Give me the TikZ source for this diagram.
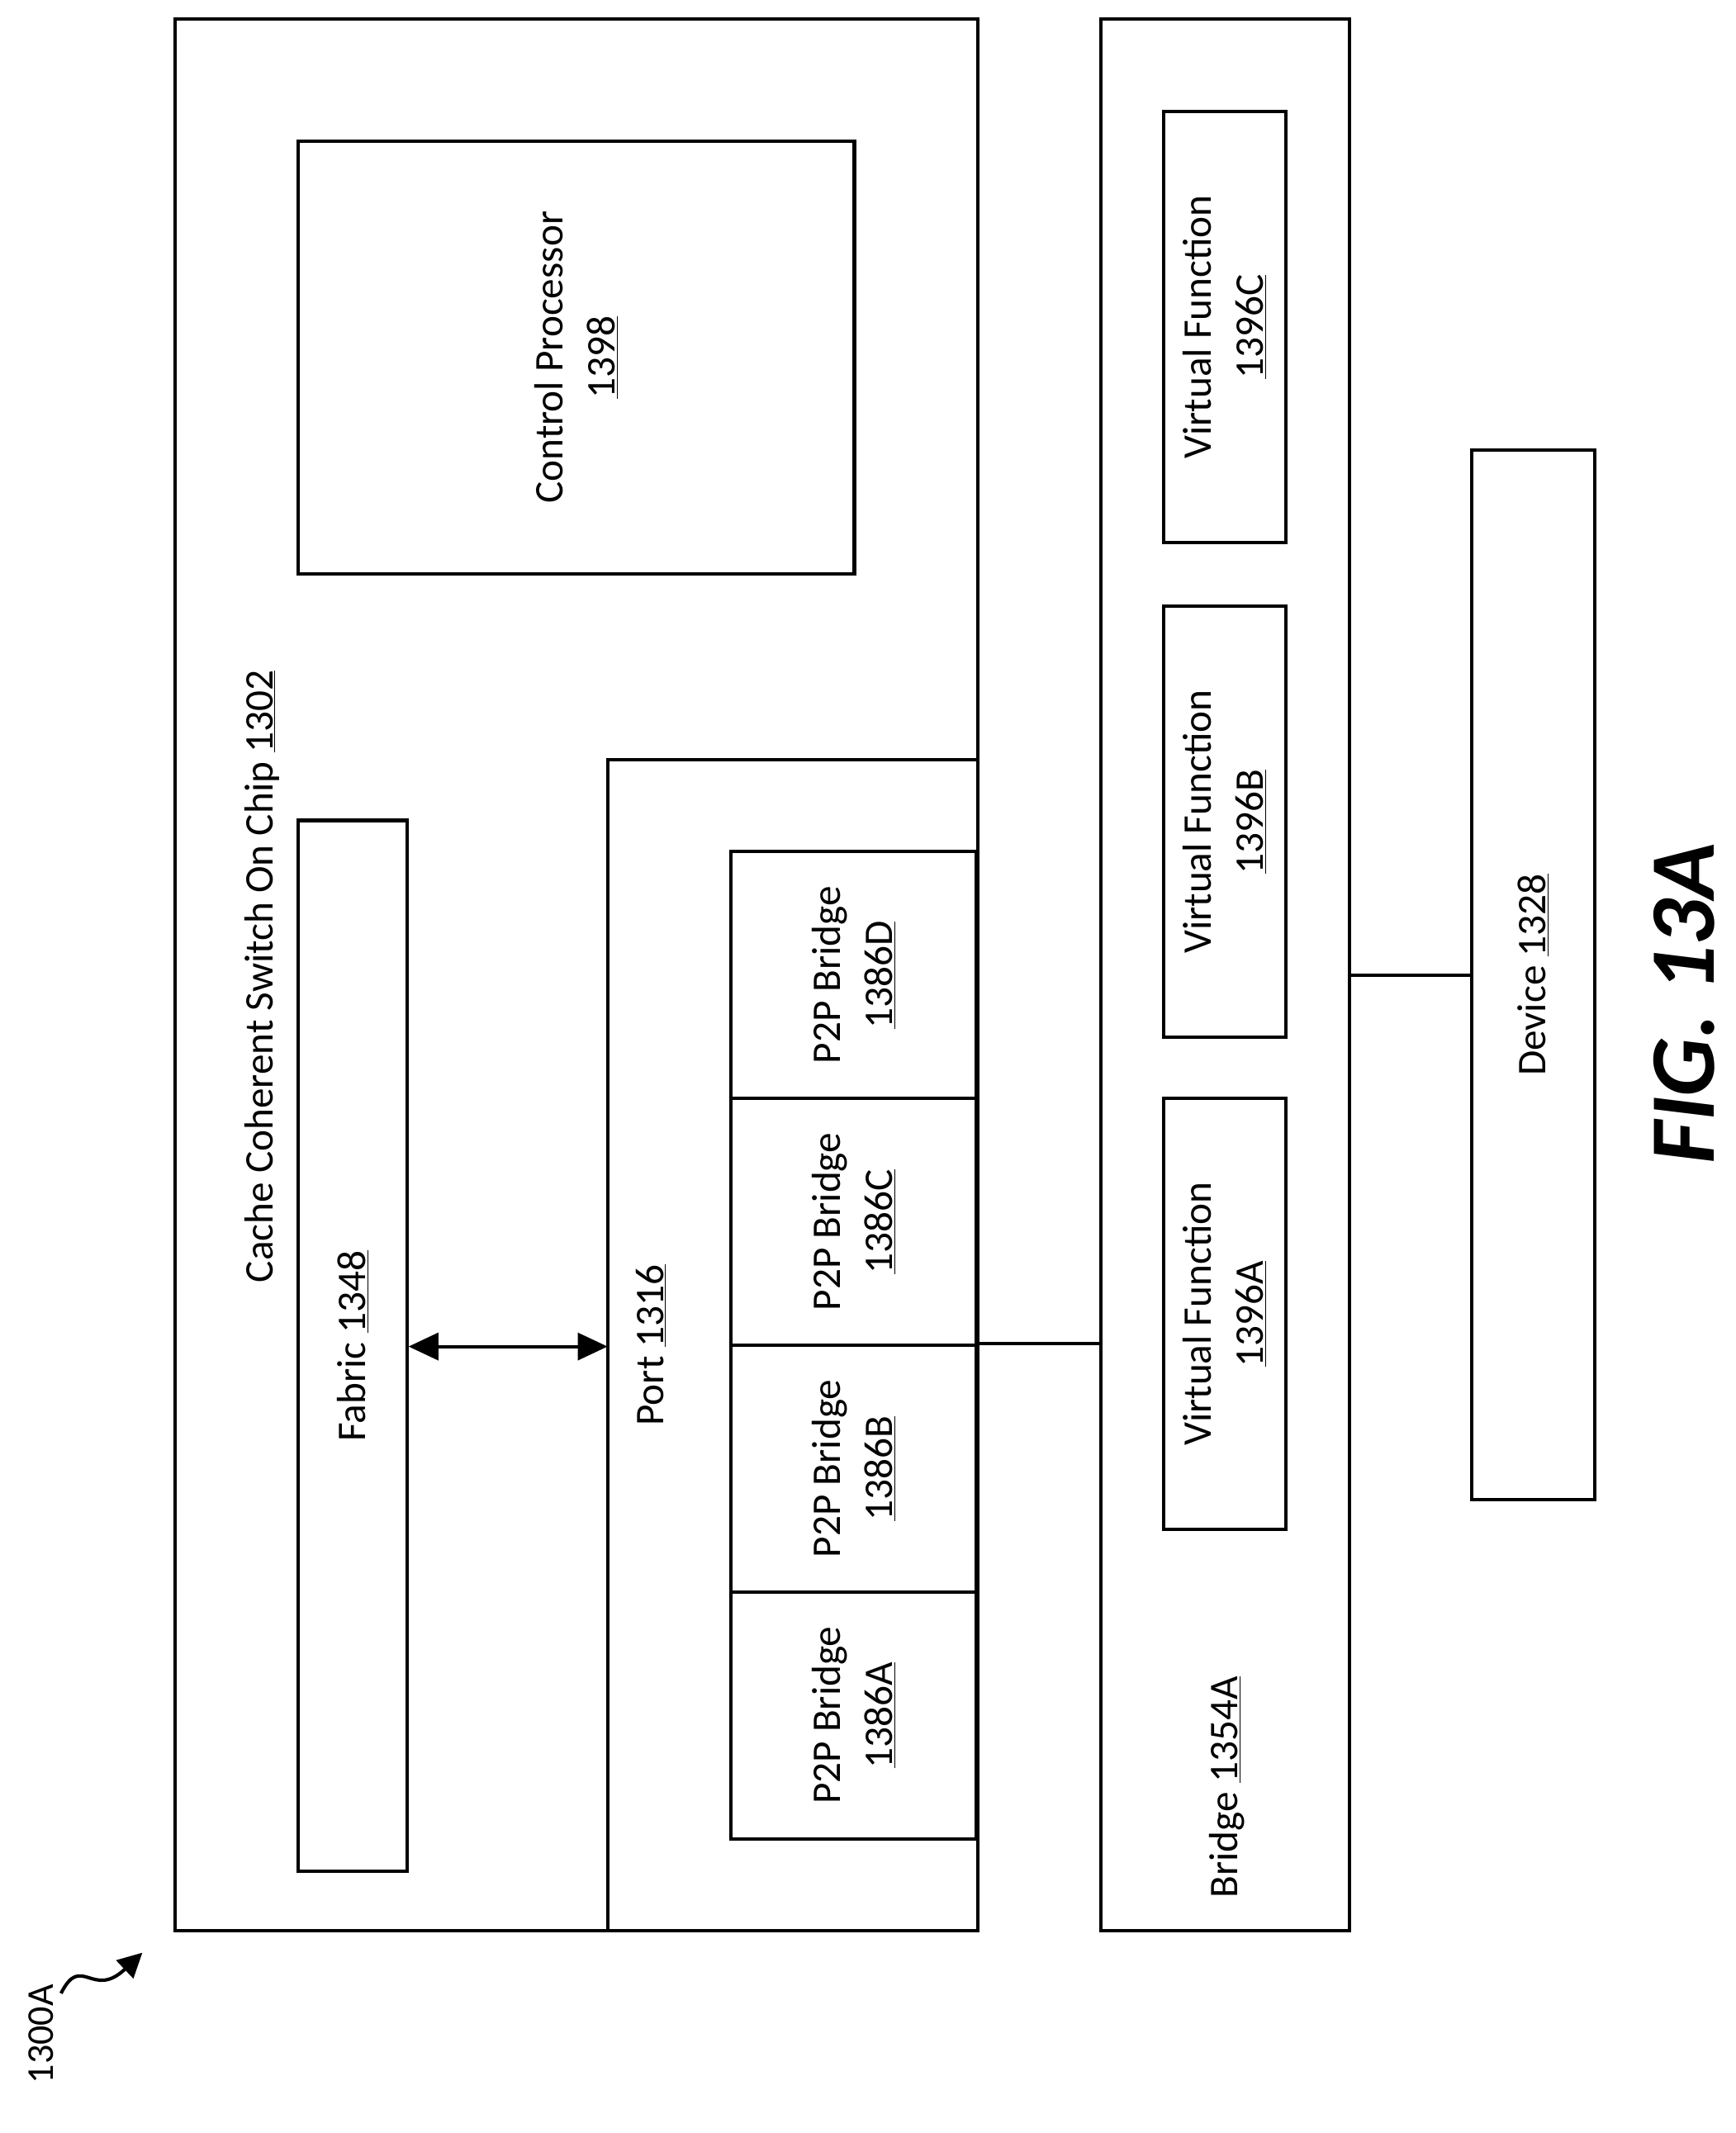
\documentclass[tikz,border=0pt]{standalone}
\usepackage{fontspec}
\setmainfont{Carlito}
\usetikzlibrary{arrows.meta,positioning}

\tikzset{
  blk/.style={draw, line width=2.5pt, inner sep=0pt},
  lbl/.style={rotate=90, align=center, font=\fontsize{30}{38}\selectfont},
}

\begin{document}
\begin{tikzpicture}[x=1pt,y=-1pt]
\useasboundingbox (0,0) rectangle (1280,1573);

% switch chip
\draw[blk] (129,14) rectangle (721,1424);
\node[lbl] (chiplbl) at (193,720) {Cache Coherent Switch On Chip \underline{1302}};
\node[blk, minimum width=410pt, minimum height=319pt] (cproc) at (425,263.5) {};
\node[lbl] at (cproc) {Control Processor\\\underline{1398}};
\node[blk, minimum width=80pt, minimum height=775pt] (fabric) at (260,992.5) {};
\node[lbl] at (fabric) {Fabric \underline{1348}};

% port
\draw[blk] (721,560) -- (448,560) -- (448,1424);
\coordinate (portw) at (448,993);
\node[lbl] (portlbl) at (480,992) {Port \underline{1316}};
\node[blk, minimum width=181pt, minimum height=182pt] (p2pD) at (629.5,719) {};
\node[blk, minimum width=181pt, minimum height=182pt] (p2pC) at (629.5,901) {};
\node[blk, minimum width=181pt, minimum height=182pt] (p2pB) at (629.5,1083) {};
\node[blk, minimum width=181pt, minimum height=182pt] (p2pA) at (629.5,1265) {};
\foreach \b/\n in {A/1386A,B/1386B,C/1386C,D/1386D}
  \node[lbl] at (p2p\b) {P2P Bridge\\\underline{\n}};

% bridge
\node[blk, minimum width=183pt, minimum height=1410pt] (bridge) at (903.5,719) {};
\node[lbl] at (905,1318) {Bridge \underline{1354A}};
\node[blk, minimum width=90pt, minimum height=318pt] (vfC) at (903,241) {};
\node[blk, minimum width=90pt, minimum height=318pt] (vfB) at (903,606) {};
\node[blk, minimum width=90pt, minimum height=318pt] (vfA) at (903,969) {};
\foreach \v in {A,B,C}
  \node[lbl] at (vf\v) {Virtual Function\\\underline{1396\v}};

% device
\node[blk, minimum width=91pt, minimum height=774pt] (device) at (1130.5,719) {};
\node[lbl] at (device) {Device \underline{1328}};

% connectors
\draw[line width=2.5pt, {Triangle[length=22pt,width=20pt]}-{Triangle[length=22pt,width=20pt]}] (fabric.east |- portw) -- (portw);
\draw[line width=2.5pt] (p2pB.north east) -- (p2pB.north east -| bridge.west);
\draw[line width=2.5pt] (bridge.east |- device.west) -- (device.west);

% figure label
\node[rotate=90, font=\fontsize{68}{80}\selectfont\bfseries\itshape] (fig) at (1242,740) {FIG. 13A};
\node[rotate=90, font=\fontsize{28}{34}\selectfont] (ref) at (30,1500) {1300A};
\coordinate (sq) at (45,1470);
\draw[line width=2.5pt, -{Triangle[length=18pt,width=18pt]}] (sq) .. controls (60,1440) and (68,1475) .. (105,1440);
\end{tikzpicture}
\end{document}
